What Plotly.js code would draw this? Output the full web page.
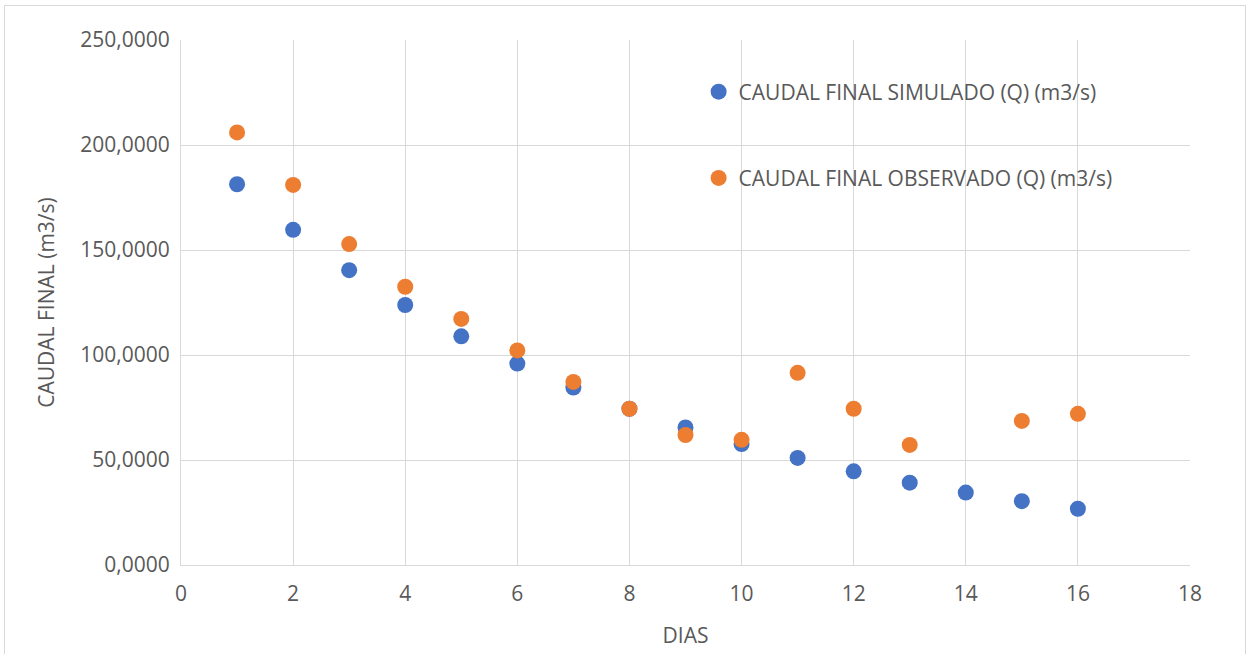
<!DOCTYPE html>
<html>
<head>
<meta charset="utf-8">
<script src="https://cdn.plot.ly/plotly-3.0.1.min.js"></script>
<style>
  html, body { margin: 0; padding: 0; background: #ffffff; }
  #frame { position: absolute; left: 4px; top: 5px; width: 1242px; height: 660px; border: 1px solid #d9d9d9; box-sizing: border-box; pointer-events: none; }
  #chart { width: 1251px; height: 654px; }
</style>
</head>
<body>
<div id="chart"></div>
<div id="frame"></div>
<script>
const dias = [1, 2, 3, 4, 5, 6, 7, 8, 9, 10, 11, 12, 13, 14, 15, 16];
const simulado = [181.3, 159.6, 140.4, 123.8, 108.9, 95.9, 84.5, 74.4, 65.5, 57.6, 51.0, 44.6, 39.2, 34.5, 30.4, 26.8];
const diasObservado = [1, 2, 3, 4, 5, 6, 7, 8, 9, 10, 11, 12, 13, 15, 16];
const observado = [206.0, 181.0, 152.8, 132.5, 117.2, 102.2, 87.2, 74.4, 61.9, 59.6, 91.5, 74.4, 57.2, 68.6, 72.0];
const nameSimulado = "CAUDAL FINAL SIMULADO (Q) (m3/s)";
const nameObservado = "CAUDAL FINAL OBSERVADO (Q) (m3/s)";
const yTickVals = [0, 50, 100, 150, 200, 250];
const yTickLabels = ["0,0000", "50,0000", "100,0000", "150,0000", "200,0000", "250,0000"];
const xTickVals = [0, 2, 4, 6, 8, 10, 12, 14, 16, 18];
const xTitle = "DIAS";
const yTitle = "CAUDAL FINAL (m3/s)";

const fontFam = "Open Sans, Noto Sans, sans-serif";
const grey = "#595959";

const traces = [
  { x: dias, y: simulado, name: nameSimulado, type: "scatter", mode: "markers",
    marker: { color: "#4472C4", size: 16 }, legendgroup: "a" },
  { x: diasObservado, y: observado, name: nameObservado, type: "scatter", mode: "markers",
    marker: { color: "#ED7D31", size: 16 }, legendgroup: "b" }
];

const layout = {
  width: 1251, height: 654,
  margin: { l: 181, r: 61, t: 40, b: 89 },
  paper_bgcolor: "#ffffff", plot_bgcolor: "#ffffff",
  font: { family: fontFam, color: grey, size: 20 },
  showlegend: true,
  legend: {
    x: 0.513, xanchor: "left", y: 0.94, yanchor: "top",
    bgcolor: "rgba(0,0,0,0)", font: { size: 21, color: grey, family: fontFam },
    tracegroupgap: 56, traceorder: "grouped", itemwidth: 30
  },
  xaxis: {
    range: [0, 18], tickvals: xTickVals, ticktext: xTickVals.map(String),
    showgrid: true, gridcolor: "#d9d9d9", gridwidth: 1,
    showline: true, linecolor: "#d9d9d9", linewidth: 1, mirror: false,
    zeroline: false, ticks: "", ticklen: 0, ticklabelstandoff: 10,
    tickfont: { size: 21, color: grey },
    title: { text: xTitle, font: { size: 21, color: grey }, standoff: 22 }
  },
  yaxis: {
    range: [0, 250], tickvals: yTickVals, ticktext: yTickLabels,
    showgrid: true, gridcolor: "#d9d9d9", gridwidth: 1,
    showline: true, linecolor: "#d9d9d9", linewidth: 1,
    zeroline: false, ticks: "", ticklabelstandoff: 6,
    tickfont: { size: 21, color: grey },
    title: { text: yTitle, font: { size: 21, color: grey }, standoff: 19 }
  }
};

Plotly.newPlot("chart", traces, layout, { displayModeBar: false, staticPlot: true });
</script>
</body>
</html>
